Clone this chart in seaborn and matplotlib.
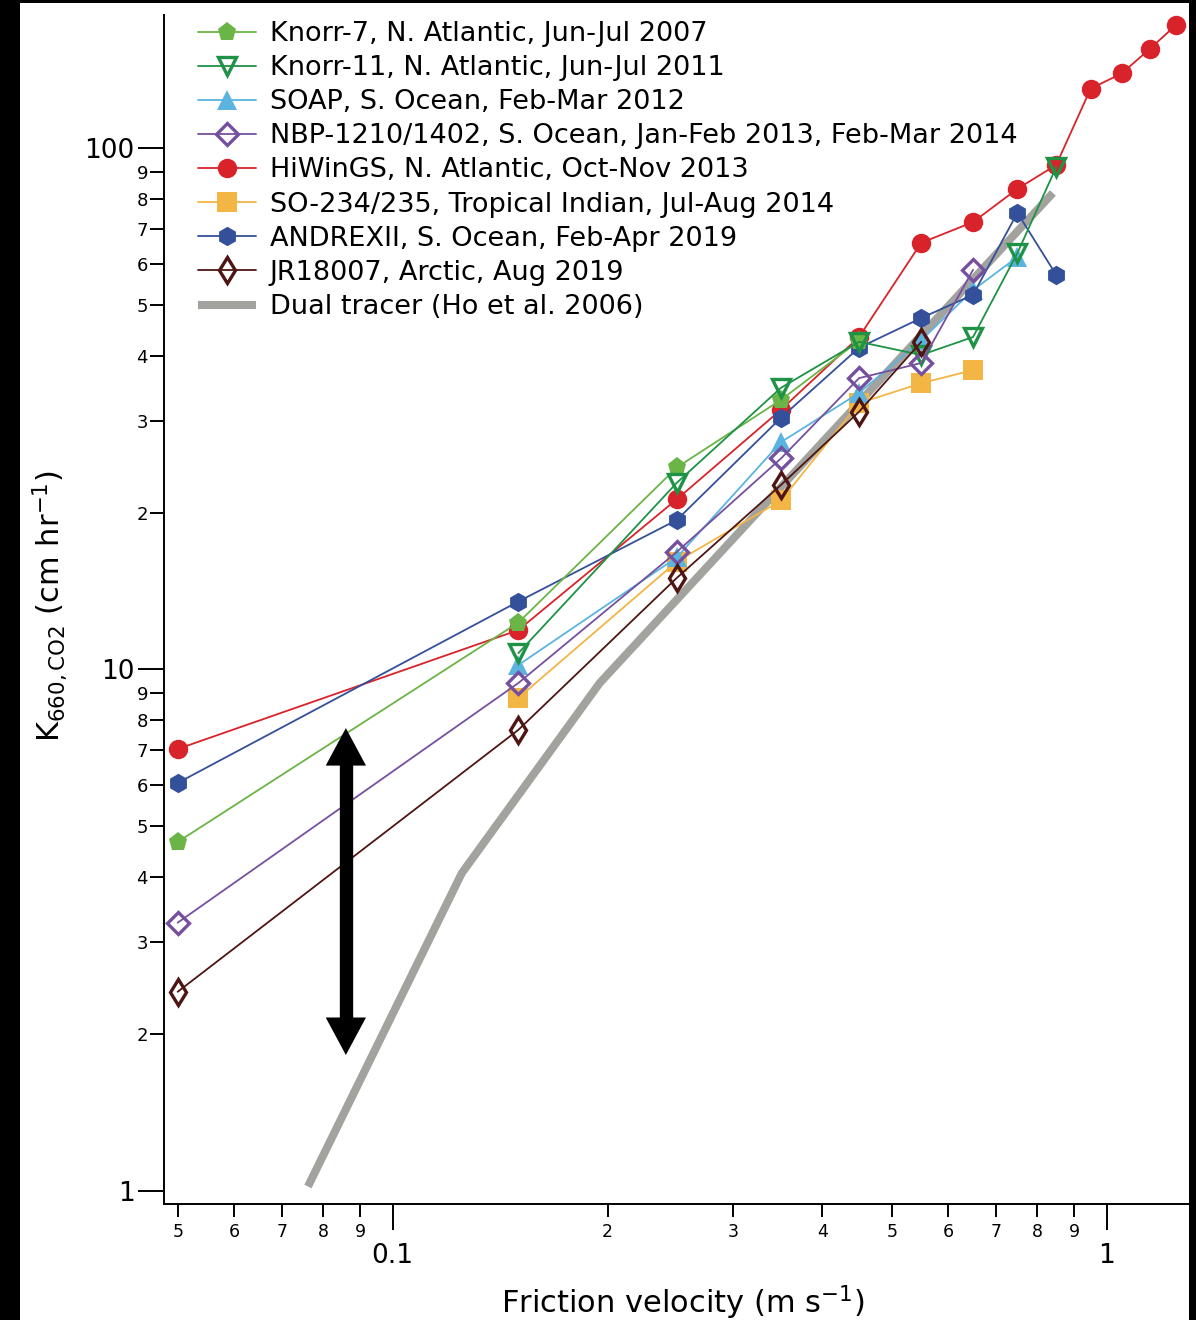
import numpy as np
import pandas as pd
import seaborn as sns
import matplotlib
matplotlib.use("Agg")
import matplotlib.pyplot as plt
from matplotlib.patches import Rectangle
from matplotlib.ticker import FixedLocator, FixedFormatter

# ---------------- data ----------------
knorr7_x = [0.05, 0.15, 0.25, 0.35, 0.45]
knorr7_y = [4.67, 12.3, 24.4, 32.9, 42.7]

knorr11_x = [0.15, 0.25, 0.35, 0.45, 0.55, 0.65, 0.75, 0.85]
knorr11_y = [10.75, 22.8, 34.7, 42.5, 40.1, 43.4, 62.9, 91.9]

soap_x = [0.15, 0.25, 0.35, 0.45, 0.55, 0.65, 0.75]
soap_y = [10.2, 16.4, 27.3, 33.9, 42.8, 53.4, 61.8]

nbp_x = [0.05, 0.15, 0.25, 0.35, 0.45, 0.55, 0.65]
nbp_y = [3.27, 9.42, 16.8, 25.4, 36.2, 38.7, 58.4]

hiwings_x = [0.05, 0.15, 0.25, 0.35, 0.45, 0.55, 0.65, 0.75, 0.85, 0.95, 1.05, 1.15, 1.25]
hiwings_y = [7.04, 11.9, 21.2, 31.5, 43.4, 65.8, 72.1, 83.5, 92.8, 130.0, 139.0, 155.0, 172.0]

so234_x = [0.15, 0.25, 0.35, 0.45, 0.55, 0.65]
so234_y = [8.82, 16.1, 21.1, 32.4, 35.4, 37.5]

andrex_x = [0.05, 0.15, 0.25, 0.35, 0.45, 0.55, 0.65, 0.75, 0.85]
andrex_y = [6.06, 13.5, 19.35, 30.4, 41.4, 47.2, 52.3, 75.1, 57.1]

jr_x = [0.05, 0.15, 0.25, 0.35, 0.45, 0.55]
jr_y = [2.41, 7.66, 14.98, 22.6, 31.2, 42.5]

dual_x = [0.0761, 0.125, 0.195, 0.841]
dual_y = [1.02, 4.07, 9.42, 82.0]

arrow_x = 0.086
arrow_top = 7.72
arrow_bottom = 1.823

labels = [
    "Knorr-7, N. Atlantic, Jun-Jul 2007",
    "Knorr-11, N. Atlantic, Jun-Jul 2011",
    "SOAP, S. Ocean, Feb-Mar 2012",
    "NBP-1210/1402, S. Ocean, Jan-Feb 2013, Feb-Mar 2014",
    "HiWinGS, N. Atlantic, Oct-Nov 2013",
    "SO-234/235, Tropical Indian, Jul-Aug 2014",
    "ANDREXII, S. Ocean, Feb-Apr 2019",
    "JR18007, Arctic, Aug 2019",
    "Dual tracer (Ho et al. 2006)",
]

x_major_ticks = [0.1, 1.0]
x_major_labels = ["0.1", "1"]
x_minor_ticks = [0.05, 0.06, 0.07, 0.08, 0.09, 0.2, 0.3, 0.4, 0.5, 0.6, 0.7, 0.8, 0.9]
x_minor_labels = ["5", "6", "7", "8", "9", "2", "3", "4", "5", "6", "7", "8", "9"]
y_major_ticks = [1, 10, 100]
y_major_labels = ["1", "10", "100"]
y_minor_ticks = [2, 3, 4, 5, 6, 7, 8, 9, 20, 30, 40, 50, 60, 70, 80, 90]
y_minor_labels = ["2", "3", "4", "5", "6", "7", "8", "9", "2", "3", "4", "5", "6", "7", "8", "9"]

# ---------------- styling ----------------
sns.set_style("ticks")
plt.rcParams["font.family"] = ["DejaVu Sans"]
plt.rcParams["mathtext.fontset"] = "dejavusans"
for k in ("text.color", "axes.labelcolor", "xtick.color", "ytick.color",
          "xtick.labelcolor", "ytick.labelcolor"):
    plt.rcParams[k] = "black"

W, H = 1196, 1320
fig = plt.figure(figsize=(W / 100, H / 100), dpi=100)
fig.patch.set_facecolor("black")
fig.add_artist(Rectangle((20 / W, 0), (1189 - 20) / W, 1317 / H,
                         transform=fig.transFigure, facecolor="white",
                         edgecolor="none", zorder=-10))

ax = fig.add_axes([164 / W, 1 - 1204 / H, (1188 - 164) / W, (1204 - 15) / H])
ax.set_facecolor("white")

lw = 1.3


def draw(x, y, key, **kw):
    df = pd.DataFrame({"x": x, "y": y})
    sns.lineplot(data=df, x="x", y="y", ax=ax, sort=False, estimator=None,
                 label=key, **kw)


# grey reference line (bottom)
draw(dual_x, dual_y, labels[8], color="#A2A29E", linewidth=5.8, zorder=1)
ax.lines[-1].set_solid_capstyle("butt")

draw(hiwings_x, hiwings_y, labels[4], color="#D9232A", marker="o", linewidth=lw,
     markersize=14, markeredgewidth=0, zorder=3)
draw(so234_x, so234_y, labels[5], color="#F3B544", marker="s", linewidth=lw,
     markersize=14, markeredgewidth=0, zorder=3)
draw(soap_x, soap_y, labels[2], color="#5BB4DF", marker="^", linewidth=lw,
     markersize=14, markeredgewidth=0, zorder=3)
draw(andrex_x, andrex_y, labels[6], color="#34509A", marker="h", linewidth=lw,
     markersize=14, markeredgewidth=0, zorder=3)
draw(knorr7_x, knorr7_y, labels[0], color="#6AB545", marker="p", linewidth=lw,
     markersize=14, markeredgewidth=0, zorder=3)
draw(knorr11_x, knorr11_y, labels[1], color="#1E9245", marker="v", linewidth=lw,
     markersize=13, markerfacecolor="none", markeredgecolor="#1E9245",
     markeredgewidth=2.4, zorder=3)
draw(nbp_x, nbp_y, labels[3], color="#7650A0", marker="D", linewidth=lw,
     markersize=11.5, markerfacecolor="none", markeredgecolor="#7650A0",
     markeredgewidth=2.4, zorder=3)
draw(jr_x, jr_y, labels[7], color="#4E1513", marker="d", linewidth=lw,
     markersize=13, markerfacecolor="none", markeredgecolor="#4E1513",
     markeredgewidth=2.4, zorder=3)

# double arrow: one shaft plus two heads (shaft ends hidden inside heads)
ax.vlines(arrow_x, arrow_bottom * 1.1, arrow_top / 1.1, colors="black",
          linewidth=9.6, zorder=5)
for tip, tail in ((arrow_top, arrow_top / 1.6), (arrow_bottom, arrow_bottom * 1.6)):
    ax.annotate("", xy=(arrow_x, tip), xytext=(arrow_x, tail),
                arrowprops=dict(facecolor="black", edgecolor="none", width=6,
                                headwidth=29, headlength=27, shrink=0),
                zorder=5)

# ---------------- axes ----------------
ax.set_xscale("log")
ax.set_yscale("log")
ax.set_xlim(0.04784, 1.3001)
ax.set_ylim(0.9442, 179.9)

for s in ("top", "right"):
    ax.spines[s].set_visible(False)
for s in ("left", "bottom"):
    ax.spines[s].set_linewidth(1.4)
    ax.spines[s].set_color("black")

ax.xaxis.set_major_locator(FixedLocator(x_major_ticks))
ax.xaxis.set_major_formatter(FixedFormatter(x_major_labels))
ax.xaxis.set_minor_locator(FixedLocator(x_minor_ticks))
ax.xaxis.set_minor_formatter(FixedFormatter(x_minor_labels))
ax.yaxis.set_major_locator(FixedLocator(y_major_ticks))
ax.yaxis.set_major_formatter(FixedFormatter(y_major_labels))
ax.yaxis.set_minor_locator(FixedLocator(y_minor_ticks))
ax.yaxis.set_minor_formatter(FixedFormatter(y_minor_labels))

ax.tick_params(axis="both", which="both", direction="out", width=1.4,
               color="black", labelcolor="black")
ax.tick_params(axis="x", which="major", length=19, pad=9, labelsize=19)
ax.tick_params(axis="x", which="minor", length=9.5, pad=4, labelsize=12.5)
ax.tick_params(axis="y", which="major", length=19, pad=2, labelsize=19)
ax.tick_params(axis="y", which="minor", length=10, pad=1.5, labelsize=13)

ax.set_xlabel("")
ax.set_ylabel("")
fig.text(683 / W, 1 - 1313 / H, "Friction velocity (m s$^{-1}$)",
         ha="center", va="baseline", fontsize=22, color="black")
fig.text(50 / W, 1 - 606 / H, r"K$_{660,\mathrm{CO2}}$ (cm hr$^{-1}$)",
         ha="center", va="center", rotation=90, fontsize=22, color="black")

# ---------------- legend ----------------
handles, labs = ax.get_legend_handles_labels()
hmap = dict(zip(labs, handles))
leg = ax.legend([hmap[l] for l in labels], labels, loc="upper left",
                bbox_to_anchor=(34 / 1024, 1 - 6 / 1189), borderaxespad=0,
                borderpad=0, frameon=False, fontsize=19.5, handlelength=2.15,
                handletextpad=0.5, labelspacing=0.3)
for t in leg.get_texts():
    t.set_color("black")

fig.savefig("out.png", dpi=100, facecolor=fig.get_facecolor())
